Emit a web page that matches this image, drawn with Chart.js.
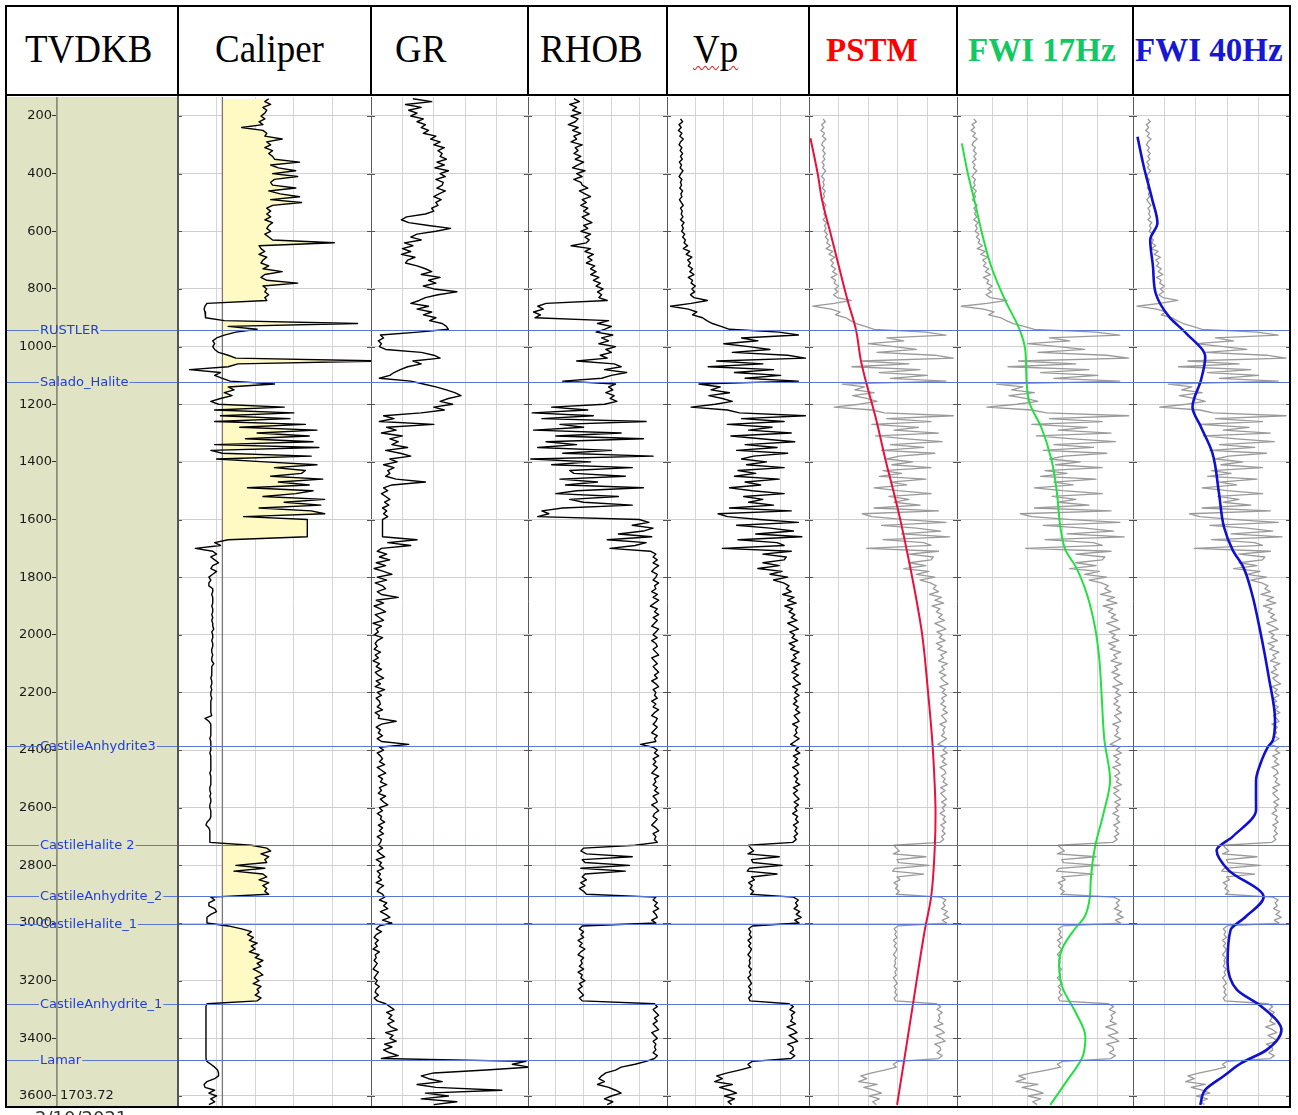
<!DOCTYPE html>
<html>
<head>
<meta charset="utf-8">
<script src="https://cdn.jsdelivr.net/npm/chart.js@4.4.1/dist/chart.umd.min.js"></script>
<style>
  body { margin: 0; background: #fff; width: 1298px; height: 1115px; overflow: hidden; position: relative; }
  canvas { position: absolute; top: 97px; }
  .bar { position: absolute; background: #000; }
  .title { position: absolute; font-family: "Liberation Serif", "Times New Roman", serif; white-space: nowrap; line-height: 1; }
  .reg { font-size: 37px; top: 31px; transform: scaleY(1.1); transform-origin: 0 31px; color: #000; }
  .bold { font-size: 33px; top: 34px; font-weight: bold; }
  #frame { position: absolute; left: 5px; top: 5px; width: 1286px; height: 1103px; border: 2px solid #000; box-sizing: border-box; pointer-events: none; }
  #date { position: absolute; left: 35px; top: 1107px; font: 18px "DejaVu Sans", sans-serif; color: #333; }
</style>
</head>
<body>
<div class="title reg" style="left:25px">TVDKB</div>
<div class="title reg" style="left:215px">Caliper</div>
<div class="title reg" style="left:395px">GR</div>
<div class="title reg" style="left:540px">RHOB</div>
<div class="title reg" style="left:693px;text-decoration:underline wavy #d83030;text-decoration-thickness:1px;text-underline-offset:3px">Vp</div>
<div class="title bold" style="left:826px;color:#ff0000">PSTM</div>
<div class="title bold" style="left:968px;color:#12c862">FWI 17Hz</div>
<div class="title bold" style="left:1135px;color:#1616d4">FWI 40Hz</div>

<canvas id="cDepth" width="171" height="1009" style="left:7px"></canvas>
<canvas id="cCal" width="193" height="1009" style="left:178px"></canvas>
<canvas id="cGR" width="157" height="1009" style="left:371px"></canvas>
<canvas id="cRhob" width="139" height="1009" style="left:528px"></canvas>
<canvas id="cVp" width="142" height="1009" style="left:667px"></canvas>
<canvas id="cPstm" width="148" height="1009" style="left:809px"></canvas>
<canvas id="cF17" width="176" height="1009" style="left:957px"></canvas>
<canvas id="cF40" width="157" height="1009" style="left:1133px"></canvas>

<!-- header grid -->
<div class="bar" style="left:5px;top:94px;width:1286px;height:2px"></div>
<div class="bar" style="left:177px;top:5px;width:2px;height:91px"></div>
<div class="bar" style="left:370px;top:5px;width:2px;height:91px"></div>
<div class="bar" style="left:527px;top:5px;width:2px;height:91px"></div>
<div class="bar" style="left:666px;top:5px;width:2px;height:91px"></div>
<div class="bar" style="left:808px;top:5px;width:2px;height:91px"></div>
<div class="bar" style="left:956px;top:5px;width:2px;height:91px"></div>
<div class="bar" style="left:1132px;top:5px;width:2px;height:91px"></div>
<div class="bar" style="left:177px;top:96px;width:2px;height:1011px;background:#555"></div>
<div id="frame"></div>
<div id="date">2/10/2021</div>

<script>
// depth axis
const yMin = 134.1;
const yMax = 3634.7;
const depthTicks = [200, 400, 600, 800, 1000, 1200, 1400, 1600, 1800, 2000, 2200, 2400, 2600, 2800, 3000, 3200, 3400, 3600];
const bottomNote = '1703.72';

// formation tops
const topNames = ['RUSTLER', 'Salado_Halite', 'CastileAnhydrite3', 'CastileHalite 2', 'CastileAnhydrite_2', 'CastileHalite_1', 'CastileAnhydrite_1', 'Lamar'];
const topDepths = [942, 1123, 2386, 2730, 2906, 3004, 3281, 3476];

// log samples every 10 ft, 140 .. 3630
const logDepth = Array.from({length: 350}, (_, i) => 140 + i * 10);

const bitSize = 8.3;
const caliper = [
  10.7, 10.5, 10.8, 10.4, 10.6, 10.5, 10.3, 10.5, 10.2, 10.4,
  9.3, 10.4, 10.6, 10.5, 11.4, 10.6, 10.8, 10.5, 10.9, 10.7,
  10.9, 11.0, 12.3, 10.8, 11.2, 12.1, 10.9, 12.2, 11.0, 10.8,
  10.9, 12.1, 10.7, 11.3, 12.3, 10.8, 12.4, 10.9, 10.6, 10.8,
  10.6, 10.8, 10.5, 10.9, 10.7, 10.6, 10.8, 10.5, 10.7, 10.9,
  14.1, 10.2, 10.3, 10.5, 10.2, 10.6, 10.4, 10.3, 10.7, 10.4,
  11.4, 10.5, 10.3, 10.6, 12.2, 10.4, 10.6, 10.5, 10.7, 10.5,
  10.6, 7.5, 7.4, 7.35, 7.4, 7.4, 7.45, 8.4, 15.3, 8.6,
  10.1, 9.0, 8.4, 8.0, 7.8, 7.9, 7.8, 7.9, 8.1, 8.6,
  9.0, 16.5, 9.1, 8.6, 6.6, 8.2, 7.9, 8.3, 8.7, 11.0,
  8.6, 8.9, 8.4, 8.8, 8.2, 7.7, 8.1, 11.5, 7.9, 12.0,
  8.2, 11.8, 7.9, 12.6, 9.2, 13.2, 10.1, 12.8, 9.5, 13.0,
  7.9, 13.3, 7.7, 8.3, 12.9, 8.0, 10.5, 13.2, 11.0, 12.6,
  12.4, 10.8, 13.5, 11.2, 12.8, 9.6, 13.0, 12.1, 10.4, 13.6,
  11.5, 13.4, 10.2, 12.9, 13.6, 9.4, 12.7, 12.7, 12.7, 12.7,
  12.7, 12.7, 12.7, 8.6, 7.9, 8.2, 6.9, 7.8, 8.0, 7.7,
  7.9, 8.1, 7.8, 7.7, 8.0, 7.8, 7.6, 7.7, 7.6, 7.6,
  7.8, 7.8, 7.75, 7.8, 7.8, 7.8, 7.75, 7.8, 7.8, 7.75,
  7.8, 7.75, 7.8, 7.8, 7.85, 7.75, 7.8, 7.8, 7.75, 7.8,
  7.8, 7.75, 7.75, 7.8, 7.75, 7.75, 7.85, 7.75, 7.75, 7.75,
  7.75, 7.7, 7.75, 7.75, 7.7, 7.75, 7.7, 7.7, 7.75, 7.7,
  7.7, 7.7, 7.7, 7.7, 7.75, 7.4, 7.6, 7.7, 7.7, 7.7,
  7.7, 7.7, 7.65, 7.7, 7.7, 7.7, 7.7, 7.65, 7.7, 7.7,
  7.7, 7.7, 7.7, 7.7, 7.65, 7.7, 7.7, 7.7, 7.7, 7.65,
  7.65, 7.7, 7.65, 7.7, 7.7, 7.65, 7.65, 7.7, 7.7, 7.7,
  7.65, 7.5, 7.45, 7.6, 7.65, 7.65, 7.65, 7.65, 7.65, 9.8,
  10.6, 10.8, 10.3, 10.7, 10.5, 10.6, 9.0, 10.5, 8.9, 10.4,
  10.6, 10.2, 10.7, 10.4, 10.6, 10.5, 10.7, 7.7, 7.9, 7.6,
  7.6, 7.9, 8.0, 7.7, 7.5, 7.5, 7.5, 8.6, 9.3, 9.8,
  9.6, 9.9, 9.7, 10.1, 9.8, 10.0, 9.7, 10.2, 10.0, 10.4,
  10.1, 10.3, 9.9, 10.2, 10.4, 10.0, 10.2, 9.9, 10.3, 10.1,
  10.2, 10.0, 10.3, 10.1, 7.5, 7.45, 7.45, 7.45, 7.45, 7.45,
  7.45, 7.45, 7.45, 7.45, 7.45, 7.45, 7.45, 7.45, 7.45, 7.45,
  7.45, 7.45, 7.45, 7.45, 7.5, 7.7, 7.9, 8.05, 8.1, 8.1,
  7.9, 7.5, 7.35, 7.4, 7.9, 7.6, 8.0, 7.7, 7.9, 7.6
];

const gammaRay = [
  40, 58, 33, 48, 36, 44, 38, 50, 44, 52,
  48, 55, 50, 62, 57, 66, 60, 70, 64, 68,
  66, 72, 63, 70, 61, 74, 66, 71, 62, 69,
  68, 63, 71, 65, 60, 67, 62, 64, 58, 60,
  52, 34, 29, 36, 55, 76, 62, 44, 38, 48,
  32, 40, 30, 38, 29, 42, 35, 33, 44, 52,
  58, 48, 66, 55, 62, 50, 60, 82, 64, 52,
  46, 38, 55, 44, 58, 50, 62, 56, 68, 72,
  74, 45, 9, 12, 7, 10, 8, 14, 48, 60,
  66, 40, 48, 35, 28, 22, 18, 8, 38, 50,
  62, 72, 80, 86, 74, 66, 78, 60, 70, 48,
  12, 22, 8, 60, 15, 24, 10, 30, 18, 26,
  20, 35, 14, 28, 38, 18, 25, 12, 22, 16,
  18, 14, 24, 52, 20, 12, 16, 10, 14, 18,
  13, 17, 11, 15, 12, 16, 11, 11, 11, 11,
  11, 11, 11, 44, 16, 38, 10, 6, 15, 8,
  18, 5, 14, 3, 12, 20, 6, 15, 4, 11,
  14, 6, 10, 26, 5, 12, 3, 9, 14, 4,
  8, 12, 2, 10, 5, 7, 3, 11, 6, 4,
  6, 3, 9, 4, 7, 2, 8, 5, 10, 4,
  7, 12, 5, 9, 4, 13, 6, 10, 5, 8,
  9, 6, 11, 4, 8, 7, 24, 10, 5, 9,
  7, 11, 6, 10, 36, 8, 12, 6, 9, 11,
  8, 13, 6, 10, 14, 7, 11, 9, 15, 8,
  10, 7, 14, 9, 12, 16, 8, 11, 6, 10,
  9, 13, 7, 11, 8, 12, 6, 10, 9, 7,
  11, 6, 9, 13, 5, 10, 8, 12, 6, 9,
  7, 10, 5, 12, 8, 6, 11, 13, 8, 15,
  12, 16, 9, 14, 18, 11, 20, 8, 5, 10,
  5, 3, 7, 4, 6, 2, 8, 4, 5, 3,
  6, 4, 2, 7, 5, 3, 6, 4, 8, 5,
  4, 7, 3, 6, 14, 18, 22, 15, 20, 17,
  22, 16, 19, 25, 14, 21, 18, 24, 13, 20,
  12, 18, 26, 10, 148, 135, 152, 110, 60, 48,
  55, 68, 44, 62, 125, 52, 74, 48, 82, 60
];

const rhob = [
  2.28, 2.32, 2.25, 2.30, 2.27, 2.33, 2.26, 2.31, 2.29, 2.24,
  2.31, 2.27, 2.33, 2.28, 2.30, 2.26, 2.34, 2.29, 2.31, 2.28,
  2.33, 2.29, 2.35, 2.31, 2.27, 2.36, 2.30, 2.34, 2.28, 2.33,
  2.34, 2.38, 2.32, 2.36, 2.40, 2.34, 2.37, 2.33, 2.38, 2.35,
  2.39, 2.34, 2.37, 2.41, 2.35, 2.38, 2.33, 2.40, 2.36, 2.39,
  2.37, 2.26, 2.40, 2.36, 2.42, 2.38, 2.41, 2.37, 2.43, 2.40,
  2.44, 2.40, 2.46, 2.42, 2.47, 2.44, 2.49, 2.45, 2.48, 2.46,
  2.52, 2.08, 2.02, 2.06, 1.99, 2.04, 2.00, 2.53, 2.45, 2.55,
  2.50, 2.44, 2.56, 2.48, 2.53, 2.46, 2.58, 2.51, 2.55, 2.47,
  2.52, 2.30, 2.57, 2.62, 2.50, 2.66, 2.55, 2.48, 2.20, 2.58,
  2.53, 2.56, 2.51, 2.57, 2.54, 2.59, 2.50, 2.12, 2.38, 1.98,
  2.42, 2.05, 2.80, 2.18, 2.35, 1.99, 2.62, 2.15, 2.78, 2.08,
  2.30, 2.02, 2.55, 2.20, 2.85, 1.97, 2.40, 2.12, 2.70, 2.25,
  2.28, 2.65, 2.18, 2.45, 2.22, 2.78, 2.30, 2.15, 2.60, 2.25,
  2.35, 2.70, 2.20, 2.05, 2.10, 2.02, 2.75, 2.82, 2.70, 2.85,
  2.78, 2.60, 2.84, 2.52, 2.80, 2.72, 2.54, 2.83, 2.87, 2.85,
  2.88, 2.85, 2.89, 2.86, 2.84, 2.88, 2.87, 2.85, 2.89, 2.86,
  2.87, 2.84, 2.88, 2.85, 2.89, 2.86, 2.83, 2.88, 2.86, 2.89,
  2.85, 2.88, 2.86, 2.84, 2.89, 2.87, 2.85, 2.88, 2.84, 2.87,
  2.88, 2.85, 2.87, 2.89, 2.84, 2.86, 2.88, 2.85, 2.87, 2.89,
  2.86, 2.88, 2.84, 2.87, 2.89, 2.85, 2.87, 2.86, 2.88, 2.84,
  2.87, 2.85, 2.89, 2.86, 2.84, 2.88, 2.87, 2.85, 2.88, 2.86,
  2.84, 2.88, 2.86, 2.87, 2.76, 2.85, 2.88, 2.86, 2.89, 2.85,
  2.87, 2.85, 2.88, 2.86, 2.84, 2.89, 2.86, 2.87, 2.85, 2.88,
  2.86, 2.89, 2.85, 2.87, 2.88, 2.84, 2.87, 2.89, 2.86, 2.85,
  2.88, 2.86, 2.84, 2.87, 2.89, 2.85, 2.87, 2.86, 2.88, 2.72,
  2.35, 2.33, 2.37, 2.70, 2.34, 2.36, 2.68, 2.33, 2.65, 2.36,
  2.34, 2.37, 2.33, 2.36, 2.32, 2.35, 2.37, 2.87, 2.85, 2.88,
  2.86, 2.89, 2.85, 2.87, 2.88, 2.84, 2.87, 2.34, 2.32, 2.35,
  2.33, 2.35, 2.31, 2.34, 2.32, 2.36, 2.33, 2.31, 2.35, 2.33,
  2.34, 2.32, 2.35, 2.31, 2.34, 2.33, 2.36, 2.32, 2.34, 2.31,
  2.33, 2.35, 2.32, 2.34, 2.86, 2.88, 2.85, 2.87, 2.89, 2.86,
  2.88, 2.85, 2.87, 2.89, 2.84, 2.86, 2.88, 2.85, 2.87, 2.86,
  2.87, 2.85, 2.88, 2.86, 2.80, 2.72, 2.62, 2.58, 2.51, 2.48,
  2.46, 2.50, 2.45, 2.53, 2.58, 2.62, 2.55, 2.50, 2.56, 2.52
];

// sonic velocity, ft/s
const vp = [
  null, null, null, null, null, null, null, 5900, 6200, 5700,
  6000, 5600, 6100, 5800, 6300, 5900, 5700, 6100, 5850, 6200,
  5900, 6150, 5750, 6050, 5850, 6250, 5950, 5700, 6100, 5900,
  6050, 5800, 6200, 5950, 6100, 5750, 6000, 6300, 5900, 6150,
  6000, 6250, 5900, 6400, 6100, 6300, 6050, 6500, 6200, 6600,
  6400, 6900, 6300, 7200, 6700, 7500, 6900, 7300, 7000, 7600,
  7200, 7800, 7000, 7600, 7400, 8000, 7500, 7900, 7300, 7800,
  9700, 7400, 4500, 7000, 8200, 7600, 9000, 9600, 10400, 11600,
  12800, 19800, 22500, 14500, 16800, 12000, 15500, 18500, 13200, 21000,
  23500, 11000, 17500, 9800, 19000, 13500, 20000, 15000, 22500, 8500,
  11500, 10200, 12800, 9900, 11800, 13200, 10800, 7400, 12500, 14200,
  23500, 14500, 20500, 12500, 18800, 15500, 21500, 13000, 17200, 22000,
  15000, 19500, 13800, 21000, 16200, 14500, 18000, 15200, 20500, 14000,
  16500, 13500, 19800, 15000, 17200, 12800, 16000, 20500, 14800, 17500,
  15500, 19000, 12800, 21500, 11200, 12500, 17000, 22500, 13800, 18500,
  21800, 16500, 23000, 14000, 19500, 20500, 11800, 21500, 17500, 20800,
  20500, 17500, 19800, 16800, 20200, 18500, 21000, 19000, 20400, 21200,
  20800, 21500, 20300, 21900, 21000, 22200, 20600, 21700, 21200, 22000,
  21500, 22300, 21000, 21800, 22500, 21300, 22000, 21600, 22400, 21200,
  22000, 21400, 22600, 21800, 22200, 21500, 22700, 21900, 22300, 21600,
  22500, 21800, 22200, 22800, 21700, 22400, 22000, 22600, 21900, 22300,
  21800, 22500, 22100, 22700, 21900, 22300, 22600, 21700, 22400, 22100,
  22300, 21900, 22600, 22000, 21400, 22500, 22100, 22700, 21800, 22400,
  22000, 22600, 21700, 22300, 22500, 21900, 22400, 22100, 22700, 21800,
  22400, 21800, 22200, 22600, 21900, 22500, 22000, 22300, 21700, 22400,
  22100, 22500, 21800, 22300, 22000, 22400, 21900, 22200, 21700, 15500,
  15800, 16200, 15400, 19800, 15900, 16100, 20200, 15600, 15300, 19500,
  15900, 16300, 15500, 16000, 15700, 16200, 15800, 21800, 22500, 22100,
  22400, 21900, 22700, 22200, 22900, 22000, 22600, 16000, 15500, 15800,
  15600, 15900, 15400, 15800, 15500, 15900, 15700, 15400, 15800, 15600,
  15700, 15500, 15900, 15600, 15800, 15400, 15700, 15900, 15500, 15800,
  15600, 15900, 15500, 15700, 21200, 21800, 21300, 22000, 21500, 21700,
  21400, 22100, 20900, 21800, 22300, 21200, 21900, 22400, 21000, 21700,
  21800, 21300, 22000, 21500, 16000, 15400, 15800, 14200, 12500, 11000,
  11800, 10700, 13200, 11400, 12800, 13800, 12100, 13500, 12600, 13100
];

// seismic velocity profiles, ft/s
const pstmDepth = [277, 402, 491, 606, 723, 838, 942, 1047, 1116, 1250, 1394, 1500, 1602, 1730, 1855, 2000, 2202, 2365, 2500, 2618, 2736, 2910, 3024, 3257, 3486, 3631];
const pstmVel = [4200, 5190, 5760, 6900, 8050, 9200, 10350, 11000, 11640, 13050, 14350, 15400, 16350, 17400, 18350, 19300, 20100, 20650, 20950, 21100, 21000, 20500, 19650, 18200, 16800, 15900];

const fwi17Depth = [295, 402, 491, 606, 723, 838, 942, 1012, 1116, 1196, 1279, 1394, 1508, 1626, 1706, 1765, 1855, 1973, 2087, 2202, 2365, 2504, 2618, 2736, 2851, 2910, 2979, 3024, 3083, 3138, 3222, 3312, 3395, 3465, 3545, 3631];
const fwi17Vel = [4550, 5250, 5970, 6830, 7900, 9450, 11130, 11760, 11900, 12240, 13560, 14750, 15360, 15750, 16330, 17520, 18720, 19680, 20180, 20420, 20750, 21400, 20660, 19680, 19200, 19100, 18480, 17300, 16040, 15600, 15960, 17520, 18590, 18250, 16540, 14600];

const fwi40Depth = [272, 376, 491, 571, 630, 723, 815, 897, 953, 1036, 1116, 1210, 1279, 1369, 1508, 1626, 1706, 1765, 1855, 1973, 2146, 2296, 2365, 2389, 2450, 2504, 2560, 2607, 2700, 2747, 2816, 2910, 2979, 3024, 3138, 3232, 3291, 3371, 3440, 3486, 3530, 3579, 3631];
const fwi40Vel = [4570, 5380, 6460, 7110, 6190, 6550, 6890, 8610, 10750, 13200, 12660, 11580, 12660, 14110, 14950, 15590, 16700, 18050, 19130, 20100, 21290, 22090, 21830, 21190, 20200, 19680, 19670, 19680, 16700, 14650, 16160, 20640, 18320, 16430, 16050, 17250, 20430, 22910, 21030, 17780, 15600, 13200, 12560];

// track x ranges (grid every fifth)
const calTicks = [6, 8, 10, 12, 14, 16];
const grTicks = [0, 30, 60, 90, 120, 150];
const rhobTicks = [1.95, 2.15, 2.35, 2.55, 2.75, 2.95];
const velTicks = [4000, 8000, 12000, 16000, 20000, 24000];

const series = vals => logDepth.map((d, i) => ({x: vals[i], y: d}));
const curve = (depths, vals) => depths.map((d, i) => ({x: vals[i], y: d}));

const olive = '#e0e4c4';
Chart.defaults.font.family = 'DejaVu Sans';

// formation tops, edge ticks, labels
const topsPlugin = {
  id: 'tops',
  defaults: {labels: false, edgeTicks: true},
  afterDatasetsDraw(chart, args, opts) {
    const {ctx, chartArea} = chart;
    const y = chart.scales.y;
    ctx.save();
    if (opts.edgeTicks) {
      ctx.strokeStyle = '#555';
      ctx.lineWidth = 1;
      depthTicks.forEach(d => {
        const py = Math.round(y.getPixelForValue(d)) + 0.5;
        ctx.beginPath();
        ctx.moveTo(chartArea.left, py); ctx.lineTo(chartArea.left + 4, py);
        ctx.moveTo(chartArea.right - 4, py); ctx.lineTo(chartArea.right, py);
        ctx.stroke();
      });
    }
    ctx.font = '13px "DejaVu Sans"';
    ctx.textBaseline = 'alphabetic';
    ctx.lineWidth = 1;
    topDepths.forEach((d, i) => {
      const py = Math.round(y.getPixelForValue(d)) + 0.5;
      ctx.strokeStyle = '#5a76d0';
      ctx.beginPath();
      if (opts.labels) {
        // line broken around the label text
        const w = ctx.measureText(topNames[i]).width;
        ctx.moveTo(0, py); ctx.lineTo(32, py);
        ctx.moveTo(34 + w, py); ctx.lineTo(chart.width, py);
      } else {
        ctx.moveTo(0, py); ctx.lineTo(chart.width, py);
      }
      ctx.stroke();
      if (opts.labels) {
        ctx.fillStyle = '#1f3de0';
        ctx.fillText(topNames[i], 33, py + 3.5);
      }
    });
    if (opts.labels) {
      ctx.fillStyle = '#1a1a1a';
      ctx.textBaseline = 'middle';
      ctx.fillText(bottomNote, chartArea.left + 3, y.getPixelForValue(depthTicks[depthTicks.length - 1]));
    }
    ctx.restore();
  }
};
Chart.register(topsPlugin);

const olivePlugin = {
  id: 'olive',
  beforeDraw(chart) {
    chart.ctx.save();
    chart.ctx.fillStyle = olive;
    chart.ctx.fillRect(0, 0, chart.width, chart.height);
    chart.ctx.restore();
  }
};

function trackOptions(xTicks) {
  const last = xTicks.length - 1;
  return {
    indexAxis: 'y',
    responsive: false,
    animation: false,
    events: [],
    layout: {padding: 0},
    elements: {point: {radius: 0}, line: {borderJoinStyle: 'round'}},
    plugins: {legend: {display: false}, tooltip: {enabled: false}},
    scales: {
      x: {
        type: 'linear', min: xTicks[0], max: xTicks[last],
        afterBuildTicks: s => { s.ticks = xTicks.map(v => ({value: v})); },
        afterFit: s => { s.height = 0; },
        ticks: {display: false},
        border: {display: false},
        grid: {drawTicks: false, color: c => c.index === 0 ? '#5a5a5a' : (c.index === last ? 'rgba(0,0,0,0)' : '#d6d6d6')}
      },
      y: {
        type: 'linear', reverse: true, min: yMin, max: yMax,
        afterBuildTicks: s => { s.ticks = depthTicks.map(v => ({value: v})); },
        afterFit: s => { s.width = 0; },
        ticks: {display: false},
        border: {display: false},
        grid: {drawTicks: false, color: '#cfcfcf'}
      }
    }
  };
}

const logLine = (data, color, width) => ({data, borderColor: color, borderWidth: width, fill: false, pointRadius: 0});

// depth track
new Chart(document.getElementById('cDepth'), {
  type: 'line',
  data: {datasets: []},
  options: {
    responsive: false,
    animation: false,
    events: [],
    layout: {padding: 0},
    plugins: {legend: {display: false}, tooltip: {enabled: false}, tops: {labels: true, edgeTicks: false}},
    scales: {
      x: {type: 'linear', min: 0, max: 1, display: false},
      y: {
        type: 'linear', reverse: true, min: yMin, max: yMax, position: 'left',
        afterBuildTicks: s => { s.ticks = depthTicks.map(v => ({value: v})); },
        afterFit: s => { s.width = 50; s.paddingTop = 0; s.paddingBottom = 0; },
        ticks: {padding: 0, autoSkip: false, color: '#1a1a1a', font: {family: 'DejaVu Sans', size: 13}, callback: v => String(v)},
        grid: {drawOnChartArea: false, drawTicks: true, tickLength: 5, color: '#333'},
        border: {display: true, color: '#8f907c', width: 1.8}
      }
    }
  },
  plugins: [olivePlugin]
});

// caliper with bit-size fill
new Chart(document.getElementById('cCal'), {
  type: 'line',
  data: {
    datasets: [
      logLine(series(caliper), '#000', 1.4),
      logLine([{x: bitSize, y: yMin}, {x: bitSize, y: yMax}], '#777', 1.3),
      {
        data: logDepth.map((d, i) => ({x: Math.max(caliper[i], bitSize), y: d})),
        borderWidth: 0, pointRadius: 0,
        backgroundColor: '#fffac4',
        fill: {value: bitSize}
      }
    ]
  },
  options: trackOptions(calTicks)
});

new Chart(document.getElementById('cGR'), {
  type: 'line',
  data: {datasets: [logLine(series(gammaRay), '#000', 1.4)]},
  options: trackOptions(grTicks)
});

new Chart(document.getElementById('cRhob'), {
  type: 'line',
  data: {datasets: [logLine(series(rhob), '#000', 1.4)]},
  options: trackOptions(rhobTicks)
});

new Chart(document.getElementById('cVp'), {
  type: 'line',
  data: {datasets: [logLine(series(vp), '#000', 1.4)]},
  options: trackOptions(velTicks)
});

function velocityTrack(id, depths, vals, color, width) {
  new Chart(document.getElementById(id), {
    type: 'line',
    data: {
      datasets: [
        Object.assign(logLine(curve(depths, vals), color, width), {cubicInterpolationMode: 'monotone'}),
        logLine(series(vp), '#9a9a9a', 1.3)
      ]
    },
    options: trackOptions(velTicks)
  });
}
velocityTrack('cPstm', pstmDepth, pstmVel, '#e8103c', 2);
velocityTrack('cF17', fwi17Depth, fwi17Vel, '#22e040', 2);
velocityTrack('cF40', fwi40Depth, fwi40Vel, '#1010d0', 2.6);
</script>
</body>
</html>
